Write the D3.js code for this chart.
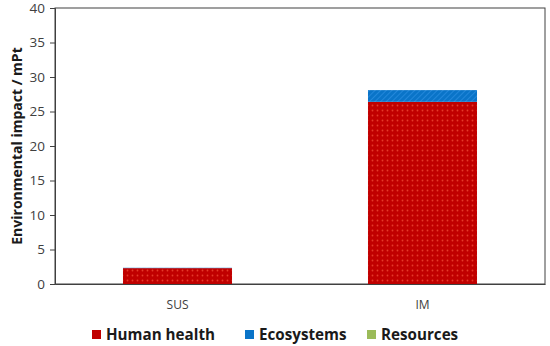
<!DOCTYPE html>
<html>
<head>
<meta charset="utf-8">
<script src="https://cdn.jsdelivr.net/npm/d3@7"></script>
<style>
  body { margin: 0; background: #fff; }
  text { font-family: "Open Sans", "Liberation Sans", sans-serif; }
</style>
</head>
<body>
<div id="chart"></div>
<script>
var categories = ["SUS", "IM"];
var seriesNames = ["Human health", "Ecosystems", "Resources"];
var humanHealth = [2.3, 26.4];
var ecosystems = [0.05, 1.7];
var resources = [0.0, 0.0];
var yTicks = [0, 5, 10, 15, 20, 25, 30, 35, 40];

var colors = ["#c00000", "#0a74c8", "#9bbb59"];

var svgWidth = 550;
var svgHeight = 346;
var margin = { top: 8, right: 5, bottom: 62, left: 55 };
var width = svgWidth - margin.left - margin.right;
var height = svgHeight - margin.top - margin.bottom;

var svg = d3.select("#chart")
    .append("svg")
    .attr("width", svgWidth)
    .attr("height", svgHeight);

// patterns used for the fills
var defs = svg.append("defs");
var dots = defs.append("pattern")
    .attr("id", "dots")
    .attr("width", 5)
    .attr("height", 5)
    .attr("patternUnits", "userSpaceOnUse");
dots.append("rect").attr("width", 5).attr("height", 5).attr("fill", colors[0]);
dots.append("circle").attr("cx", 2.5).attr("cy", 2.5).attr("r", 0.9).attr("fill", "#e53a2a");

var hatch = defs.append("pattern")
    .attr("id", "hatch")
    .attr("width", 4)
    .attr("height", 4)
    .attr("patternUnits", "userSpaceOnUse")
    .attr("patternTransform", "rotate(45)");
hatch.append("rect").attr("width", 4).attr("height", 4).attr("fill", colors[1]);
hatch.append("line").attr("x1", 0).attr("y1", 0).attr("x2", 0).attr("y2", 4)
    .attr("stroke", "#2a8ee0").attr("stroke-width", 1.5);

var fills = ["url(#dots)", "url(#hatch)", colors[2]];

var chartGroup = svg.append("g")
    .attr("transform", `translate(${margin.left}, ${margin.top})`);

var data = categories.map(function(c, i) {
    return { cat: c, "Human health": humanHealth[i], "Ecosystems": ecosystems[i], "Resources": resources[i] };
});
var stacked = d3.stack().keys(seriesNames)(data);

var xScale = d3.scaleBand()
    .domain(categories)
    .range([0, width])
    .paddingInner(0.555)
    .paddingOuter(0.2775);
var yScale = d3.scaleLinear()
    .domain([0, 40])
    .range([height, 0]);

// frame
chartGroup.append("rect")
    .attr("width", width)
    .attr("height", height)
    .attr("fill", "none")
    .attr("stroke", "#404040")
    .attr("stroke-width", 1);

stacked.forEach(function(layer, k) {
    chartGroup.selectAll(".bar" + k)
        .data(layer)
        .enter()
        .append("rect")
        .attr("x", d => xScale(d.data.cat))
        .attr("y", d => yScale(d[1]))
        .attr("width", xScale.bandwidth())
        .attr("height", d => Math.max(0, yScale(d[0]) - yScale(d[1])))
        .attr("fill", fills[k]);
});

var leftAxis = d3.axisLeft(yScale).tickValues(yTicks).tickSize(5).tickPadding(5);
var yAxis = chartGroup.append("g").call(leftAxis);
yAxis.select(".domain").attr("stroke", "#404040");
yAxis.selectAll("line").attr("stroke", "#404040");
yAxis.selectAll("text").attr("font-size", 13.5).attr("fill", "#404040");

var bottomAxis = d3.axisBottom(xScale).tickSize(0).tickPadding(16);
var xAxis = chartGroup.append("g")
    .attr("transform", `translate(0, ${height})`)
    .call(bottomAxis);
xAxis.select(".domain").attr("stroke", "#404040");
xAxis.selectAll("text").attr("font-size", 12).attr("fill", "#404040");

chartGroup.append("text")
    .attr("transform", "rotate(-90)")
    .attr("x", -height / 2)
    .attr("y", -margin.left + 22)
    .attr("text-anchor", "middle")
    .attr("font-size", 14)
    .attr("font-weight", "bold")
    .attr("fill", "#1a1a1a")
    .text("Environmental impact / mPt");

// legend
var legendX = [92, 245, 367];
var legend = svg.append("g");
seriesNames.forEach(function(name, k) {
    legend.append("rect")
        .attr("x", legendX[k])
        .attr("y", 330)
        .attr("width", 9)
        .attr("height", 9)
        .attr("fill", colors[k]);
    legend.append("text")
        .attr("x", legendX[k] + 14)
        .attr("y", 340)
        .attr("font-size", 15.2)
        .attr("font-weight", "bold")
        .attr("fill", "#1a1a1a")
        .text(name);
});
</script>
</body>
</html>
